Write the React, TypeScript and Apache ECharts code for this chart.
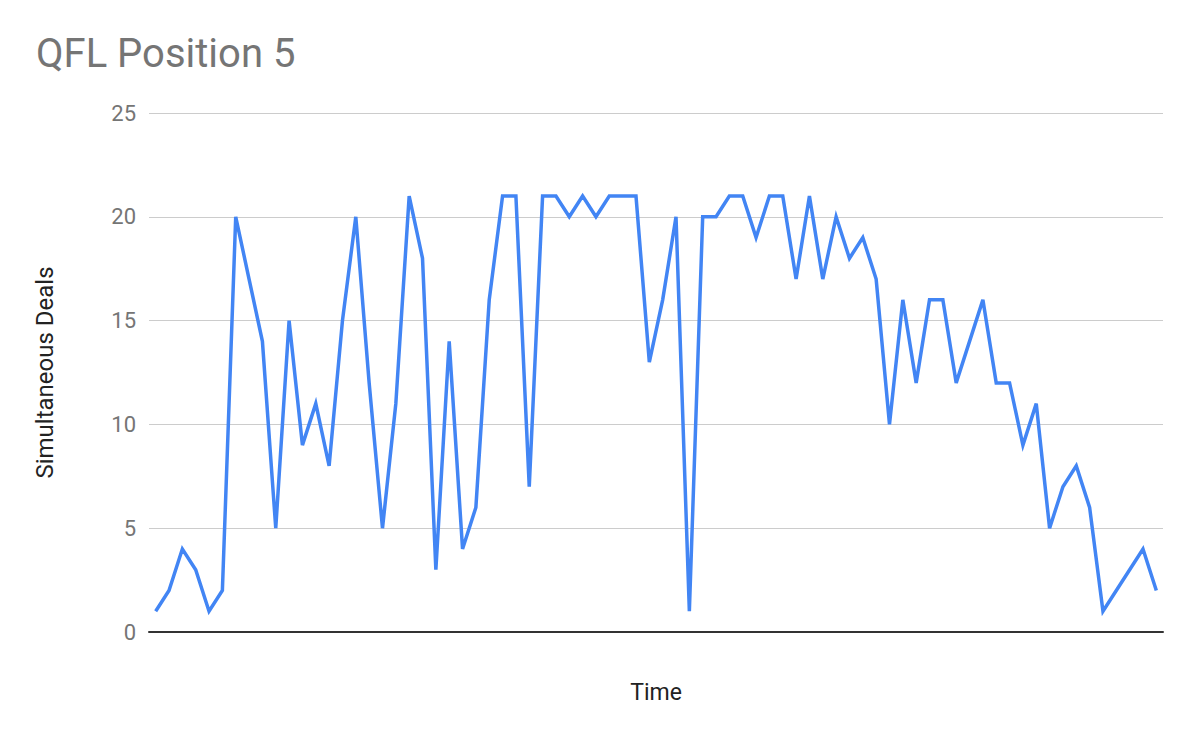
import React, { useEffect, useRef } from "react";
import * as echarts from "echarts";

const dealValues: number[] = [
  1, 2, 4, 3, 1, 2, 20, 17, 14, 5,
  15, 9, 11, 8, 15, 20, 12, 5, 11, 21,
  18, 3, 14, 4, 6, 16, 21, 21, 7, 21,
  21, 20, 21, 20, 21, 21, 21, 13, 16, 20,
  1, 20, 20, 21, 21, 19, 21, 21, 17, 21,
  17, 20, 18, 19, 17, 10, 16, 12, 16, 16,
  12, 14, 16, 12, 12, 9, 11, 5, 7, 8,
  6, 1, 2, 3, 4, 2,
];

const timeCategories: string[] = dealValues.map((_, i) => String(i + 1));

const yTicks = { min: 0, max: 25, interval: 5 };

const chartTitle = "QFL Position 5";
const xAxisName = "Time";
const yAxisName = "Simultaneous Deals";

export default function App() {
  const ref = useRef<HTMLDivElement>(null);

  useEffect(() => {
    if (!ref.current) return;
    const chart = echarts.init(ref.current, undefined, { renderer: "svg" });
    chart.setOption({
      animation: false,
      backgroundColor: "#ffffff",
      textStyle: { fontFamily: "Roboto" },
      title: {
        text: chartTitle,
        left: 31,
        top: 28,
        textStyle: {
          fontFamily: "Roboto",
          fontSize: 40,
          fontWeight: "normal",
          color: "#757575",
        },
      },
      grid: { left: 149, right: 37, top: 113, bottom: 110, containLabel: false },
      xAxis: {
        type: "category",
        data: timeCategories,
        boundaryGap: true,
        name: xAxisName,
        nameLocation: "middle",
        nameGap: 49,
        nameTextStyle: { fontFamily: "Roboto", fontSize: 23, color: "#222222" },
        axisLine: { show: true, lineStyle: { color: "#333333", width: 2 } },
        axisTick: { show: false },
        axisLabel: { show: false },
        splitLine: { show: false },
      },
      yAxis: {
        type: "value",
        min: yTicks.min,
        max: yTicks.max,
        interval: yTicks.interval,
        name: yAxisName,
        nameLocation: "middle",
        nameGap: 92,
        nameRotate: 90,
        nameTextStyle: { fontFamily: "Roboto", fontSize: 24, color: "#222222" },
        axisLine: { show: false },
        axisTick: { show: false },
        axisLabel: { fontFamily: "Roboto", fontSize: 22, color: "#757575", margin: 13 },
        splitLine: { show: true, lineStyle: { color: "#cccccc", width: 1 } },
      },
      series: [
        {
          type: "line",
          data: dealValues,
          showSymbol: false,
          symbol: "none",
          lineStyle: { color: "#4285F4", width: 3.5, join: "miter", miterLimit: 10 },
          itemStyle: { color: "#4285F4" },
        },
      ],
    });
    return () => chart.dispose();
  }, []);

  return <div ref={ref} style={{ width: 1200, height: 742, position: "absolute", left: 0, top: 0 }} />;
}
